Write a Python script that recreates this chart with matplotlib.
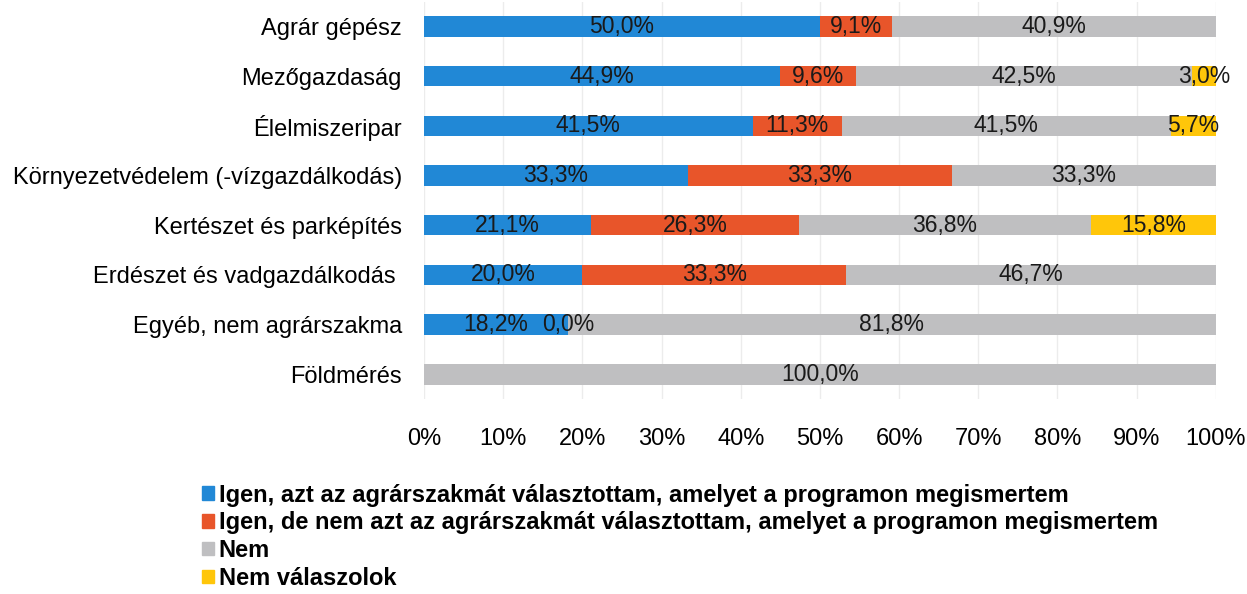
import numpy as np
import matplotlib
matplotlib.use("Agg")
import matplotlib.pyplot as plt
from matplotlib.patches import Patch
from matplotlib import font_manager

plt.rcParams['font.family'] = ['Liberation Sans', 'DejaVu Sans']

# adatok (felülről lefelé)
categories = ["Agrár gépész", "Mezőgazdaság", "Élelmiszeripar",
              "Környezetvédelem (-vízgazdálkodás)", "Kertészet és parképítés",
              "Erdészet és vadgazdálkodás ", "Egyéb, nem agrárszakma", "Földmérés"]
igen_azt = [50.0, 44.9, 41.5, 33.3, 21.1, 20.0, 18.2, None]
igen_nem_azt = [9.1, 9.6, 11.3, 33.3, 26.3, 33.3, 0.0, None]
nem = [40.9, 42.5, 41.5, 33.3, 36.8, 46.7, 81.8, 100.0]
nem_valaszol = [None, 3.0, 5.7, None, 15.8, None, None, None]

series_names = ["Igen, azt az agrárszakmát választottam, amelyet a programon megismertem",
                "Igen, de nem azt az agrárszakmát választottam, amelyet a programon megismertem",
                "Nem",
                "Nem válaszolok"]
colors = ["#2188D6", "#E8552A", "#BFBFC1", "#FFC60A"]

series = [igen_azt, igen_nem_azt, nem, nem_valaszol]
raw = np.array([[np.nan if v is None else v for v in s] for s in series], dtype=float)
vals = np.nan_to_num(raw)
# 100%-os halmozott oszlop
share = vals / vals.sum(axis=0) * 100

# keskeny félkövér betű a jelmagyarázathoz, ha van
names = {f.name for f in font_manager.fontManager.ttflist}
if "Liberation Sans Narrow" in names:
    leg_prop = {"family": "Liberation Sans Narrow", "weight": "bold", "size": 18}
else:
    leg_prop = {"family": "Liberation Sans", "weight": "bold", "size": 17}

fig = plt.figure(figsize=(12.47, 5.94), dpi=100)
ax = fig.add_axes([0.340, 0.328, 0.635, 0.669])

y = np.arange(len(categories))
left = np.zeros(len(categories))
for i in range(4):
    ax.barh(y, share[i], left=left, height=0.41, color=colors[i], zorder=2)
    for j in range(len(categories)):
        if not np.isnan(raw[i, j]):
            ax.text(left[j] + share[i, j] / 2, y[j],
                    f"{raw[i, j]:.1f}%".replace(".", ","),
                    ha="center", va="center", fontsize=16.5, color="#1a1a1a", zorder=3)
    left += share[i]

ax.set_xlim(0, 100)
ax.set_ylim(len(categories) - 0.5, -0.5)
ax.set_yticks(y)
ax.set_yticklabels(categories, fontsize=17)
ax.set_xticks(np.arange(0, 101, 10))
ax.set_xticklabels([f"{t}%" for t in range(0, 101, 10)], fontsize=17)
ax.tick_params(axis="y", length=0, pad=16)
ax.tick_params(axis="x", length=0, pad=21)
ax.grid(axis="x", color="#ececec", linewidth=1, zorder=0)
for s in ax.spines.values():
    s.set_visible(False)

handles = [Patch(color=c) for c in colors]
fig.legend(handles, series_names, loc="upper left", bbox_to_anchor=(0.162, 0.186),
           frameon=False, ncol=1, handlelength=0.5, handleheight=0.5,
           handletextpad=0.2, labelspacing=0.2, borderaxespad=0, borderpad=0,
           prop=leg_prop)

fig.savefig("out.png", dpi=100)
